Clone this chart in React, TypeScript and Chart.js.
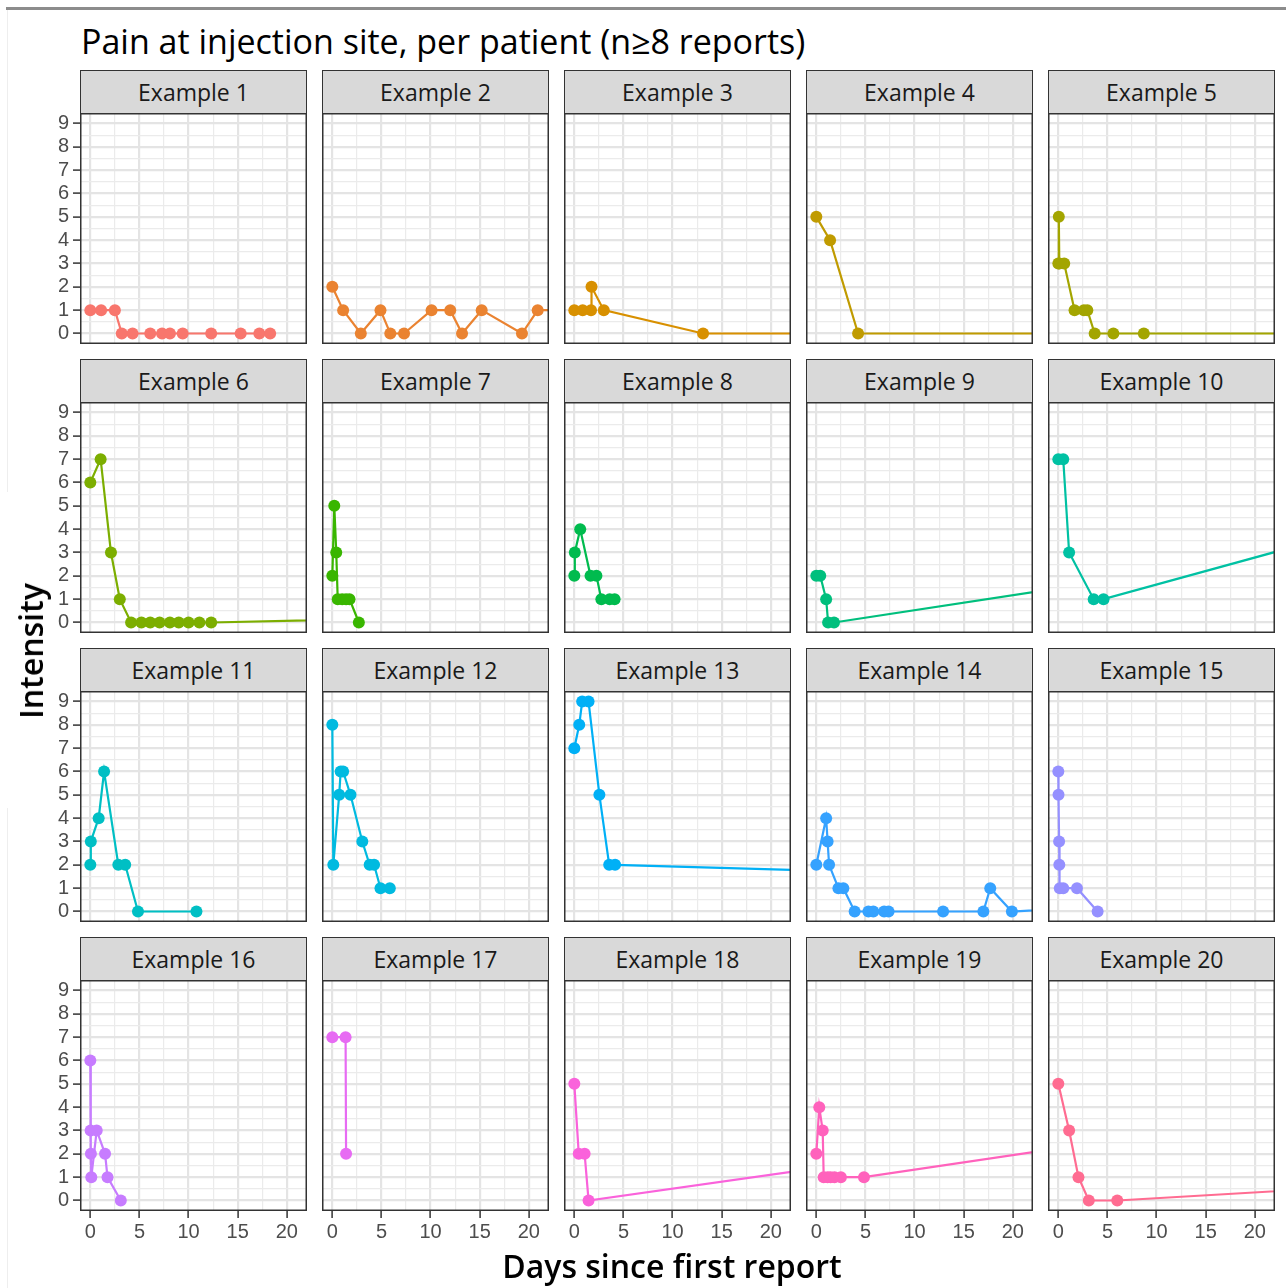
import React, { useEffect, useRef } from "react";
import { Chart, registerables } from "chart.js";

Chart.register(...registerables);

// ---------- text ----------
const TITLE = "Pain at injection site, per patient (n\u22658 reports)";
const X_TITLE = "Days since first report";
const Y_TITLE = "Intensity";
const PANEL_LABELS = [
  "Example 1", "Example 2", "Example 3", "Example 4", "Example 5",
  "Example 6", "Example 7", "Example 8", "Example 9", "Example 10",
  "Example 11", "Example 12", "Example 13", "Example 14", "Example 15",
  "Example 16", "Example 17", "Example 18", "Example 19", "Example 20",
];

// ---------- ticks ----------
const X_TICKS = [0, 5, 10, 15, 20];
const X_MINOR = [2.5, 7.5, 12.5, 17.5];
const Y_TICKS = [0, 1, 2, 3, 4, 5, 6, 7, 8, 9];
const Y_MINOR = [0.5, 1.5, 2.5, 3.5, 4.5, 5.5, 6.5, 7.5, 8.5];
const X_MIN = -1.05;
const X_MAX = 22.05;
const Y_MIN = -0.45;
const Y_MAX = 9.45;

// ---------- colours (ggplot hue palette, 20 groups) ----------
const COLORS = [
  "#F8766D", "#EA8331", "#D89000", "#C09B00", "#A3A500",
  "#7CAE00", "#39B600", "#00BB4E", "#00BF7D", "#00C1A3",
  "#00BFC4", "#00BAE0", "#00B0F6", "#35A2FF", "#9590FF",
  "#C77CFF", "#E76BF3", "#FA62DB", "#FF62BC", "#FF6C91",
];

// ---------- data: days since first report / intensity ----------
const ex1Days = [0, 1.1, 2.5, 3.2, 4.3, 6.1, 7.3, 8.1, 9.4, 12.3, 15.3, 17.2, 18.3];
const ex1Pain = [1, 1, 1, 0, 0, 0, 0, 0, 0, 0, 0, 0, 0];
const ex2Days = [0, 1.1, 2.9, 4.9, 5.9, 7.3, 10.1, 12.0, 13.2, 15.2, 19.3, 20.9, 25.0];
const ex2Pain = [2, 1, 0, 1, 0, 0, 1, 1, 0, 1, 0, 1, 1];
const ex3Days = [0, 0.85, 1.7, 1.75, 3.0, 13.1, 26, 30];
const ex3Pain = [1, 1, 1, 2, 1, 0, 0, 0];
const ex4Days = [0, 1.4, 4.25, 28, 35];
const ex4Pain = [5, 4, 0, 0, 0];
const ex5Days = [0, 0.05, 0.1, 0.6, 1.65, 2.6, 2.95, 3.7, 5.6, 8.7, 30];
const ex5Pain = [3, 5, 3, 3, 1, 1, 1, 0, 0, 0, 0];
const ex6Days = [0, 1.05, 2.1, 3.0, 4.15, 5.2, 6.1, 7.05, 8.1, 9.0, 10.0, 11.1, 12.3, 120];
const ex6Pain = [6, 7, 3, 1, 0, 0, 0, 0, 0, 0, 0, 0, 0, 1];
const ex7Days = [0, 0.2, 0.4, 0.55, 1.0, 1.4, 1.75, 2.7];
const ex7Pain = [2, 5, 3, 1, 1, 1, 1, 0];
const ex8Days = [0, 0.05, 0.6, 1.65, 2.25, 2.75, 3.6, 4.1];
const ex8Pain = [2, 3, 4, 2, 2, 1, 1, 1];
const ex9Days = [0, 0.4, 1.0, 1.2, 1.8, 33];
const ex9Pain = [2, 2, 1, 0, 0, 2];
const ex10Days = [0, 0.5, 1.1, 3.6, 4.6, 30.5];
const ex10Pain = [7, 7, 3, 1, 1, 4];
const ex11Days = [0, 0.05, 0.85, 1.4, 2.85, 3.55, 4.85, 10.8];
const ex11Pain = [2, 3, 4, 6, 2, 2, 0, 0];
const ex12Days = [0, 0.1, 0.7, 0.85, 1.1, 1.85, 3.05, 3.8, 4.25, 4.9, 5.85];
const ex12Pain = [8, 2, 5, 6, 6, 5, 3, 2, 2, 1, 1];
const ex13Days = [0, 0.5, 0.8, 1.45, 2.55, 3.55, 4.15, 88];
const ex13Pain = [7, 8, 9, 9, 5, 2, 2, 1];
const ex14Days = [0, 1.0, 1.15, 1.3, 2.25, 2.75, 3.9, 5.3, 5.8, 6.9, 7.35, 12.9, 17.0, 17.7, 19.9, 65];
const ex14Pain = [2, 4, 3, 2, 1, 1, 0, 0, 0, 0, 0, 0, 0, 1, 0, 1];
const ex15Days = [0, 0.02, 0.08, 0.1, 0.15, 0.5, 1.9, 4.0];
const ex15Pain = [6, 5, 3, 2, 1, 1, 1, 0];
const ex16Days = [0, 0.03, 0.06, 0.1, 0.65, 1.5, 1.75, 3.1];
const ex16Pain = [6, 3, 2, 1, 3, 2, 1, 0];
const ex17Days = [0, 1.35, 1.4];
const ex17Pain = [7, 7, 2];
const ex18Days = [0, 0.45, 1.05, 1.45, 35];
const ex18Pain = [5, 2, 2, 0, 2];
const ex19Days = [0, 0.3, 0.65, 0.75, 1.15, 1.45, 1.85, 2.5, 4.85, 37];
const ex19Pain = [2, 4, 3, 1, 1, 1, 1, 1, 1, 3];
const ex20Days = [0, 1.1, 2.05, 3.1, 6.0, 46.5];
const ex20Pain = [5, 3, 1, 0, 0, 1];

const SERIES_DAYS = [
  ex1Days, ex2Days, ex3Days, ex4Days, ex5Days, ex6Days, ex7Days, ex8Days, ex9Days, ex10Days,
  ex11Days, ex12Days, ex13Days, ex14Days, ex15Days, ex16Days, ex17Days, ex18Days, ex19Days, ex20Days,
];
const SERIES_PAIN = [
  ex1Pain, ex2Pain, ex3Pain, ex4Pain, ex5Pain, ex6Pain, ex7Pain, ex8Pain, ex9Pain, ex10Pain,
  ex11Pain, ex12Pain, ex13Pain, ex14Pain, ex15Pain, ex16Pain, ex17Pain, ex18Pain, ex19Pain, ex20Pain,
];

// ---------- layout ----------
const NCOL = 5;
const NROW = 4;
const PANEL_LEFT = [80, 322, 564, 806, 1048];
const PANEL_W = 227;
const STRIP_TOP = [70, 359, 648, 937];
const STRIP_H = 43;
const PANEL_H = 231;
const Y_AXIS_W = 80;
const X_AXIS_H = 45;

const TICK_FONT = { family: "'Liberation Sans', Arial, sans-serif", size: 20 };
const TEXT_FONT = "'Open Sans', 'Noto Sans', sans-serif";

const panelBorder = {
  id: "panelBorder",
  afterDraw(chart: any) {
    const { ctx, chartArea } = chart;
    const { left, top, right, bottom } = chartArea;
    ctx.save();
    ctx.strokeStyle = "#333333";
    ctx.lineWidth = 1.5;
    ctx.strokeRect(left + 0.75, top + 0.75, right - left - 1.5, bottom - top - 1.5);
    ctx.restore();
  },
};

function Panel({ index }: { index: number }) {
  const ref = useRef<HTMLCanvasElement>(null);
  const row = Math.floor(index / NCOL);
  const col = index % NCOL;
  const showY = col === 0;
  const showX = row === NROW - 1;
  const canvasLeft = showY ? PANEL_LEFT[0] - Y_AXIS_W : PANEL_LEFT[col];
  const canvasW = PANEL_W + (showY ? Y_AXIS_W : 0);
  const canvasTop = STRIP_TOP[row] + STRIP_H;
  const canvasH = PANEL_H + (showX ? X_AXIS_H : 0);

  useEffect(() => {
    const days = SERIES_DAYS[index];
    const pain = SERIES_PAIN[index];
    const color = COLORS[index];
    const xGrid = [...X_TICKS, ...X_MINOR].sort((a, b) => a - b);
    const yGrid = [...Y_TICKS, ...Y_MINOR].sort((a, b) => a - b);
    const chart = new Chart(ref.current as HTMLCanvasElement, {
      type: "line",
      data: {
        datasets: [
          {
            data: days.map((d, i) => ({ x: d, y: pain[i] })),
            borderColor: color,
            backgroundColor: color,
            pointBackgroundColor: color,
            pointBorderWidth: 0,
            pointRadius: 6,
            borderWidth: 2.2,
            tension: 0,
            clip: 0,
          } as any,
        ],
      },
      options: {
        responsive: false,
        animation: false,
        events: [],
        layout: { padding: 0, autoPadding: false },
        plugins: { legend: { display: false }, tooltip: { enabled: false } },
        scales: {
          x: {
            type: "linear",
            min: X_MIN,
            max: X_MAX,
            border: { display: false },
            afterBuildTicks: (s: any) => {
              s.ticks = xGrid.map((v) => ({ value: v }));
            },
            afterFit: (s: any) => {
              s.height = showX ? X_AXIS_H : 0;
              s.paddingLeft = 0;
              s.paddingRight = 0;
            },
            ticks: {
              display: showX,
              autoSkip: false,
              maxRotation: 0,
              minRotation: 0,
              padding: 2,
              color: "#4D4D4D",
              font: TICK_FONT,
              callback: (v: any) => (X_TICKS.includes(v) ? String(v) : ""),
            },
            grid: {
              color: (c: any) => (c.tick && X_TICKS.includes(c.tick.value) ? "#E4E4E4" : "#EBEBEB"),
              lineWidth: (c: any) => (c.tick && X_TICKS.includes(c.tick.value) ? 2.2 : 1.2),
              drawTicks: showX,
              tickLength: 7,
              tickWidth: 1.5,
              tickColor: (c: any) =>
                c.tick && X_TICKS.includes(c.tick.value) ? "#333333" : "rgba(0,0,0,0)",
            },
          },
          y: {
            type: "linear",
            min: Y_MIN,
            max: Y_MAX,
            border: { display: false },
            afterBuildTicks: (s: any) => {
              s.ticks = yGrid.map((v) => ({ value: v }));
            },
            afterFit: (s: any) => {
              s.width = showY ? Y_AXIS_W : 0;
              s.paddingTop = 0;
              s.paddingBottom = 0;
            },
            ticks: {
              display: showY,
              autoSkip: false,
              padding: 4,
              color: "#4D4D4D",
              font: TICK_FONT,
              callback: (v: any) => (Y_TICKS.includes(v) ? String(v) : ""),
            },
            grid: {
              color: (c: any) => (c.tick && Y_TICKS.includes(c.tick.value) ? "#E4E4E4" : "#EBEBEB"),
              lineWidth: (c: any) => (c.tick && Y_TICKS.includes(c.tick.value) ? 2.2 : 1.2),
              drawTicks: showY,
              tickLength: 7,
              tickWidth: 1.5,
              tickColor: (c: any) =>
                c.tick && Y_TICKS.includes(c.tick.value) ? "#333333" : "rgba(0,0,0,0)",
            },
          },
        },
      } as any,
      plugins: [panelBorder],
    });
    return () => chart.destroy();
  }, [index]);

  return (
    <>
      <div
        style={{
          position: "absolute",
          left: PANEL_LEFT[col],
          top: STRIP_TOP[row],
          width: PANEL_W,
          height: STRIP_H + 1,
          boxSizing: "border-box",
          background: "#D9D9D9",
          border: "1.3px solid #333333",
          display: "flex",
          alignItems: "center",
          justifyContent: "center",
          fontFamily: TEXT_FONT,
          fontSize: 23,
          color: "#1A1A1A",
          whiteSpace: "nowrap",
        }}
      >
        {PANEL_LABELS[index]}
      </div>
      <canvas
        ref={ref}
        width={canvasW}
        height={canvasH}
        style={{
          position: "absolute",
          left: canvasLeft,
          top: canvasTop,
          width: canvasW,
          height: canvasH,
        }}
      />
    </>
  );
}

export default function App() {
  const panels = PANEL_LABELS.map((_, i) => i);
  return (
    <div
      style={{
        position: "absolute",
        left: 0,
        top: 0,
        width: 1286,
        height: 1288,
        background: "#FFFFFF",
        overflow: "hidden",
      }}
    >
      {/* page frame remnants */}
      <div style={{ position: "absolute", left: 6, right: 0, top: 7, height: 3, background: "#8C8C8C" }} />
      <div style={{ position: "absolute", left: 7, top: 10, width: 1, height: 482, background: "#EEEEEE" }} />
      <div style={{ position: "absolute", left: 7, top: 808, width: 1, height: 480, background: "#EEEEEE" }} />

      <div
        style={{
          position: "absolute",
          left: 81,
          top: 24,
          fontFamily: TEXT_FONT,
          fontSize: 34,
          lineHeight: "34px",
          color: "#000000",
          whiteSpace: "nowrap",
        }}
      >
        {TITLE}
      </div>

      {panels.map((i) => (
        <Panel key={i} index={i} />
      ))}

      <div
        style={{
          position: "absolute",
          left: 672,
          top: 1266,
          transform: "translate(-50%, -50%)",
          fontFamily: TEXT_FONT,
          fontWeight: 600,
          fontSize: 32,
          lineHeight: "36px",
          color: "#000000",
          whiteSpace: "nowrap",
        }}
      >
        {X_TITLE}
      </div>
      <div
        style={{
          position: "absolute",
          left: 31,
          top: 651,
          transform: "translate(-50%, -50%) rotate(-90deg)",
          fontFamily: TEXT_FONT,
          fontWeight: 600,
          fontSize: 32,
          lineHeight: "36px",
          color: "#000000",
          whiteSpace: "nowrap",
        }}
      >
        {Y_TITLE}
      </div>
    </div>
  );
}
